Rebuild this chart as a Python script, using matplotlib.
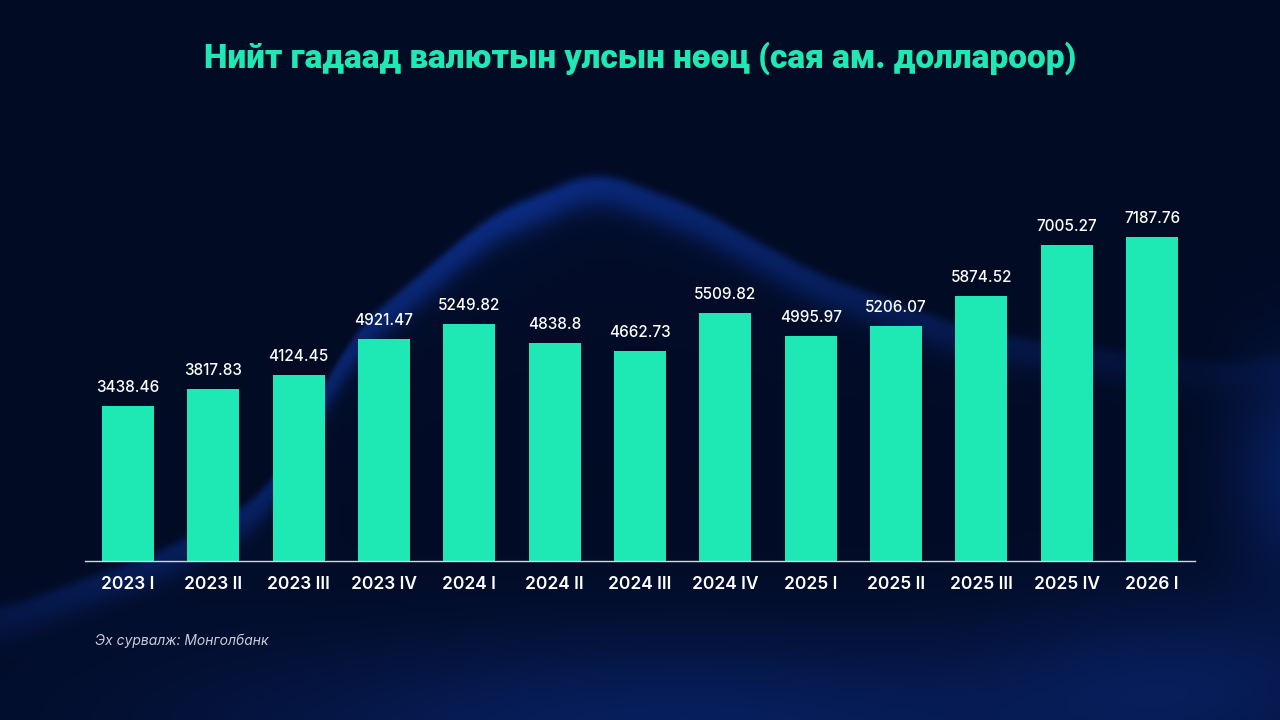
import numpy as np
import matplotlib
matplotlib.use("Agg")
import matplotlib.pyplot as plt

categories = ["2023 I", "2023 II", "2023 III", "2023 IV", "2024 I", "2024 II", "2024 III",
              "2024 IV", "2025 I", "2025 II", "2025 III", "2025 IV", "2026 I"]
values = [3438.46, 3817.83, 4124.45, 4921.47, 5249.82, 4838.8, 4662.73,
          5509.82, 4995.97, 5206.07, 5874.52, 7005.27, 7187.76]
value_labels = ["3438.46", "3817.83", "4124.45", "4921.47", "5249.82", "4838.8", "4662.73",
                "5509.82", "4995.97", "5206.07", "5874.52", "7005.27", "7187.76"]
title = "Нийт гадаад валютын улсын нөөц (сая ам. доллароор)"
source = "Эх сурвалж: Монголбанк"

W, H = 1280, 720
fig = plt.figure(figsize=(12.8, 7.2), dpi=100)

# background decoration (wave ribbon + soft glows)
yy, xx = np.mgrid[0:H, 0:W].astype(float)
cx = np.array([0, 163, 270, 351, 490, 596, 694, 816, 980, 1224, 1280])
cy = np.array([614, 555, 495, 337, 219, 175, 211, 278, 337, 369, 360])
xs = np.arange(W)
yc = np.interp(xs, cx, cy)
k = np.ones(61) / 61
yc = np.convolve(np.pad(yc, 30, mode="edge"), k, mode="valid")
d = yy - yc[None, :]
ribbon = np.where(d > 0, np.exp(-((d - 6) / 22.0) ** 2), np.exp(-(d / 7.0) ** 2))
ribbon = np.where((d > 0) & (d < 6), 1.0, ribbon)
under = np.where(d > 0, np.exp(-d / 110.0), 0.0)
fade = np.clip(1.0 - np.abs(xx - 520) / 800.0, 0.15, 1.0)
glow_b = np.exp(-(((xx - 680) / 480.0) ** 2 + ((yy - 730) / 100.0) ** 2))
glow_r = np.exp(-(((xx - 1300) / 70.0) ** 2 + ((yy - 470) / 110.0) ** 2))
glow_br = np.exp(-(((xx - 1200) / 200.0) ** 2 + ((yy - 680) / 90.0) ** 2))
base = np.array([2, 11, 36]) / 255.0
blue = np.array([14, 56, 165]) / 255.0
inten = np.clip(0.6 * ribbon * fade + 0.1 * under * fade + 0.45 * glow_b
                + 0.45 * glow_r + 0.3 * glow_br, 0, 1)
img = base[None, None, :] * (1 - inten[..., None]) + blue[None, None, :] * inten[..., None]
bg = fig.add_axes([0, 0, 1, 1])
bg.imshow(img, aspect="auto", extent=[0, W, H, 0])
bg.set_axis_off()

ax = fig.add_axes([85.3 / W, (H - 561) / H, 1109.4 / W, 360.6 / H])
ax.patch.set_alpha(0)
x = np.arange(len(categories))
bars = ax.bar(x, values, width=0.61, color="#1EE8B3", zorder=2)
ax.set_xlim(-0.5, len(categories) - 0.5)
ax.set_ylim(0, 8000)
for xi, v, lab in zip(x, values, value_labels):
    ax.annotate(lab, (xi, v), xytext=(0, 8), textcoords="offset points",
                ha="center", va="bottom", color="white", fontsize=11,
                family="Inter", fontweight="medium")
ax.set_xticks(x)
ax.set_xticklabels(categories, color="white", fontsize=12.5, family="Inter", fontweight="semibold")
ax.tick_params(axis="x", length=0, pad=11)
ax.set_yticks([])
for s in ["top", "right", "left"]:
    ax.spines[s].set_visible(False)
ax.spines["bottom"].set_color("#d0d8e8")
ax.spines["bottom"].set_linewidth(1.0)

fig.text(0.5, 1 - 58 / H, title, ha="center", va="center", color="#1EE8B3",
         fontsize=24, family="Roboto", fontweight="black")
fig.text(95 / W, 1 - 641 / H, source, ha="left", va="center", color="#c8cdd8",
         fontsize=10, family="Inter", style="italic")

fig.savefig("out.png", dpi=100)
